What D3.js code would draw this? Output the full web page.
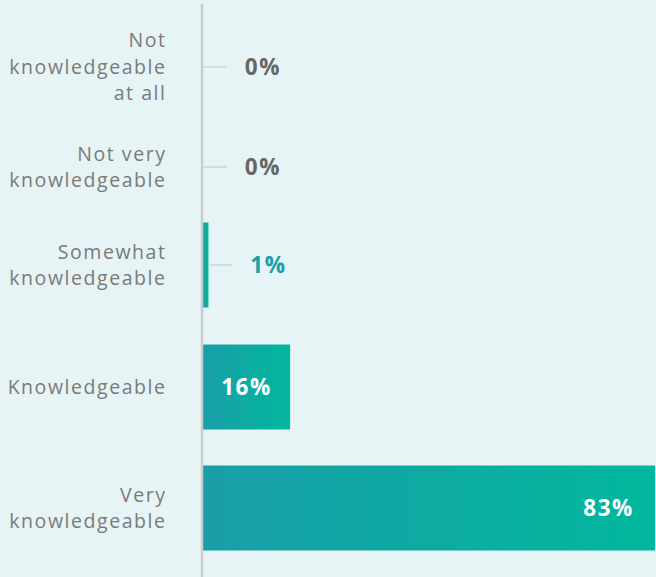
<!DOCTYPE html>
<html>
<head>
<meta charset="utf-8">
<script src="https://cdn.jsdelivr.net/npm/d3@7"></script>
<style>
  html, body { margin: 0; padding: 0; background: #e7f4f5; }
  svg { display: block; }
</style>
</head>
<body>
<svg id="chart" width="656" height="577"></svg>
<script>
// Survey responses: self-rated knowledge level
const categories = [
  "Not knowledgeable at all",
  "Not very knowledgeable",
  "Somewhat knowledgeable",
  "Knowledgeable",
  "Very knowledgeable"
];
const categoryLines = [
  ["Not", "knowledgeable", "at all"],
  ["Not very", "knowledgeable"],
  ["Somewhat", "knowledgeable"],
  ["Knowledgeable"],
  ["Very", "knowledgeable"]
];
const values = [0, 0, 1, 16, 83];
const valueLabels = ["0%", "0%", "1%", "16%", "83%"];

const W = 656, H = 577;
const svg = d3.select("#chart");
const font = "'Open Sans', 'Noto Sans', sans-serif";

const x = d3.scaleLinear().domain([0, 83]).range([203, 655]);
// row centres (rows with no bar sit a little closer together)
const yc = d3.scaleOrdinal().domain(categories).range([67, 167, 265, 387, 508]);
const barH = 85;

const defs = svg.append("defs");
const grad = defs.append("linearGradient").attr("id", "barGrad")
  .attr("x1", "0%").attr("x2", "100%").attr("y1", "0%").attr("y2", "0%");
grad.append("stop").attr("offset", "0%").attr("stop-color", "#1a9ea9");
grad.append("stop").attr("offset", "100%").attr("stop-color", "#01b79c");

svg.append("rect").attr("width", W).attr("height", H).attr("fill", "#e7f4f5");

// bars
svg.selectAll("rect.bar").data(categories.filter((c, i) => values[i] > 0))
  .join("rect").attr("class", "bar")
  .attr("x", x(0))
  .attr("y", c => yc(c) - barH / 2)
  .attr("width", c => x(values[categories.indexOf(c)]) - x(0))
  .attr("height", barH)
  .attr("fill", "url(#barGrad)");

// vertical axis line
svg.append("line")
  .attr("x1", 202).attr("x2", 202).attr("y1", 4).attr("y2", H)
  .attr("stroke", "#c9cdcf").attr("stroke-width", 2.5);

// category labels
categories.forEach((c, i) => {
  const lines = categoryLines[i];
  const lh = 26.5;
  const t = svg.append("text")
    .attr("x", 166.5)
    .attr("text-anchor", "end")
    .attr("font-family", font)
    .attr("font-size", 19.5)
    .attr("letter-spacing", 1.55)
    .attr("fill", "#7a7a7a");
  lines.forEach((ln, k) => {
    t.append("tspan").attr("x", 166.5)
      .attr("y", yc(c) + (k - (lines.length - 1) / 2) * lh)
      .attr("dy", "0.35em")
      .text(ln);
  });
});

// value labels
categories.forEach((c, i) => {
  const v = values[i];
  const bw = x(v) - x(0);
  let tx, anchor = "middle", fill;
  if (bw > 60) {
    fill = "#ffffff";
    if (i === 4) { tx = x(v) - 21; anchor = "end"; }
    else { tx = x(0) + bw / 2; }
  } else {
    // short connector from the bar end to an outside label
    svg.append("line")
      .attr("x1", x(v)).attr("x2", x(v) + 24)
      .attr("y1", yc(c)).attr("y2", yc(c))
      .attr("stroke", "#c9cdcf").attr("stroke-width", 1.2);
    tx = x(v) + 60;
    fill = v > 0 ? "#1a9ea9" : "#666666";
  }
  svg.append("text")
    .attr("x", tx).attr("y", yc(c)).attr("dy", "0.35em")
    .attr("text-anchor", anchor)
    .attr("font-family", font)
    .attr("font-weight", 700)
    .attr("font-size", 22.5)
    .attr("letter-spacing", 1.6)
    .attr("fill", fill)
    .text(valueLabels[i]);
});
</script>
</body>
</html>
